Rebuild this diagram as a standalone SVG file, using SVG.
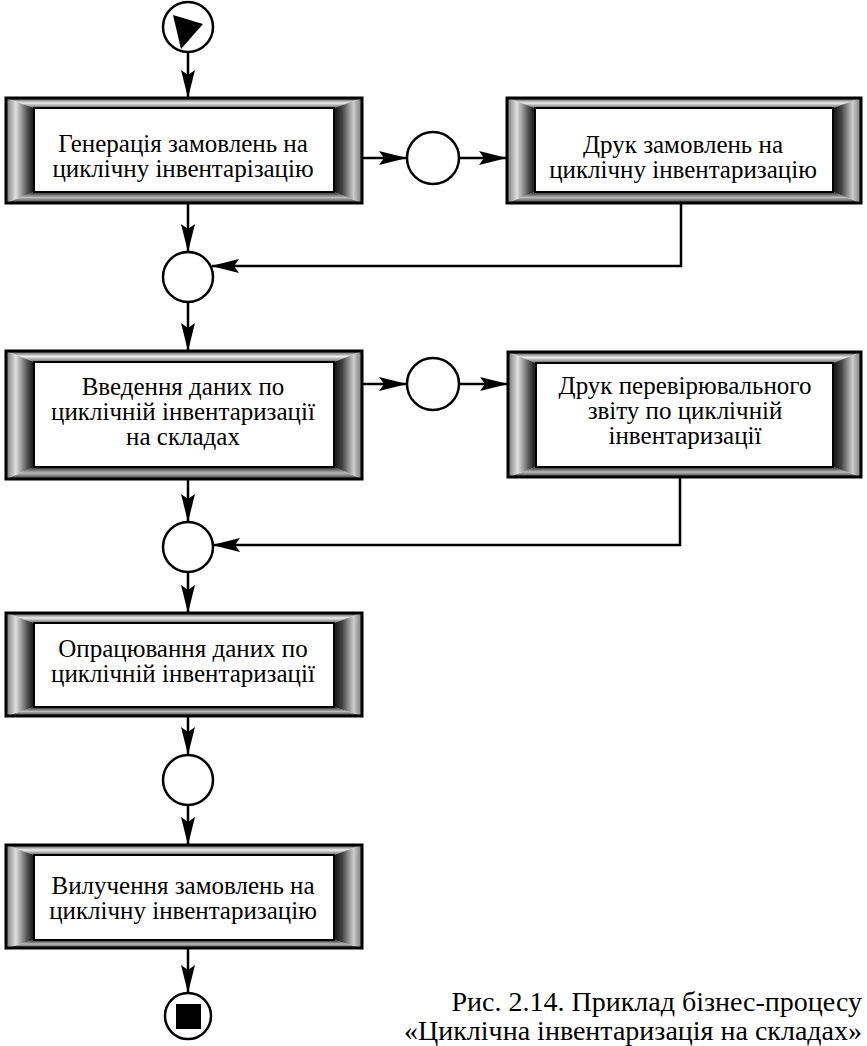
<svg xmlns="http://www.w3.org/2000/svg" width="867" height="1046" viewBox="0 0 867 1046">
<style>
.ln{fill:none;stroke:#000;stroke-width:2.5}
.ar{marker-end:url(#arr)}
.circ{fill:#fff;stroke:#000;stroke-width:2.5}
.outer{fill:none;stroke:#000;stroke-width:3}
.inner{fill:#fff;stroke:#000;stroke-width:2}
</style>
<defs>
<marker id="arr" markerUnits="userSpaceOnUse" markerWidth="28" markerHeight="14" refX="27" refY="7" orient="auto">
<path d="M0,0 L28,7 L0,14 L5,7 Z" fill="#000"/>
</marker>
<linearGradient id="gl" x1="0" y1="0" x2="1" y2="0">
<stop offset="0" stop-color="#777"/><stop offset="0.35" stop-color="#e0e0e0"/><stop offset="0.75" stop-color="#555"/><stop offset="1" stop-color="#111"/>
</linearGradient>
<linearGradient id="gr" x1="0" y1="0" x2="1" y2="0">
<stop offset="0" stop-color="#111"/><stop offset="0.3" stop-color="#444"/><stop offset="0.7" stop-color="#ccc"/><stop offset="1" stop-color="#777"/>
</linearGradient>
<linearGradient id="gt" x1="0" y1="0" x2="0" y2="1">
<stop offset="0" stop-color="#444"/><stop offset="0.5" stop-color="#eee"/><stop offset="1" stop-color="#666"/>
</linearGradient>
<linearGradient id="gb" x1="0" y1="0" x2="0" y2="1">
<stop offset="0" stop-color="#222"/><stop offset="0.5" stop-color="#bbb"/><stop offset="1" stop-color="#333"/>
</linearGradient>
</defs>

<g id="start">
<circle class="circ" cx="188" cy="27" r="25"/>
<polygon points="173,15 203,24 181,49" fill="#000"/>
</g>

<g id="box1">
<polygon points="6,98 362,98 334,108 34,108" fill="url(#gt)"/>
<polygon points="6,203 362,203 334,192 34,192" fill="url(#gb)"/>
<polygon points="6,98 34,108 34,192 6,203" fill="url(#gl)"/>
<polygon points="362,98 334,108 334,192 362,203" fill="url(#gr)"/>
<rect class="outer" x="6" y="98" width="356" height="105"/>
<rect class="inner" x="34" y="108" width="300" height="84"/>
<text x="183" y="152" font-family="'Liberation Serif', 'Times New Roman', serif" font-size="25" text-anchor="middle">Генерація замовлень на</text>
<text x="183" y="177" font-family="'Liberation Serif', 'Times New Roman', serif" font-size="25" text-anchor="middle">циклічну інвентарізацію</text>
</g>

<g id="box2">
<polygon points="507,98 861,98 833,108 535,108" fill="url(#gt)"/>
<polygon points="507,203 861,203 833,192 535,192" fill="url(#gb)"/>
<polygon points="507,98 535,108 535,192 507,203" fill="url(#gl)"/>
<polygon points="861,98 833,108 833,192 861,203" fill="url(#gr)"/>
<rect class="outer" x="507" y="98" width="354" height="105"/>
<rect class="inner" x="535" y="108" width="298" height="84"/>
<text x="683" y="153" font-family="'Liberation Serif', 'Times New Roman', serif" font-size="25" text-anchor="middle">Друк замовлень на</text>
<text x="683" y="178" font-family="'Liberation Serif', 'Times New Roman', serif" font-size="25" text-anchor="middle">циклічну інвентаризацію</text>
</g>

<g id="box3">
<polygon points="6,351 362,351 334,362 34,362" fill="url(#gt)"/>
<polygon points="6,479 362,479 334,467 34,467" fill="url(#gb)"/>
<polygon points="6,351 34,362 34,467 6,479" fill="url(#gl)"/>
<polygon points="362,351 334,362 334,467 362,479" fill="url(#gr)"/>
<rect class="outer" x="6" y="351" width="356" height="128"/>
<rect class="inner" x="34" y="362" width="300" height="105"/>
<text x="183" y="395" font-family="'Liberation Serif', 'Times New Roman', serif" font-size="25" text-anchor="middle">Введення даних по</text>
<text x="183" y="420" font-family="'Liberation Serif', 'Times New Roman', serif" font-size="25" text-anchor="middle">циклічній інвентаризації</text>
<text x="183" y="445" font-family="'Liberation Serif', 'Times New Roman', serif" font-size="25" text-anchor="middle">на складах</text>
</g>

<g id="box4">
<polygon points="508,352 861,352 833,363 536,363" fill="url(#gt)"/>
<polygon points="508,477 861,477 833,467 536,467" fill="url(#gb)"/>
<polygon points="508,352 536,363 536,467 508,477" fill="url(#gl)"/>
<polygon points="861,352 833,363 833,467 861,477" fill="url(#gr)"/>
<rect class="outer" x="508" y="352" width="353" height="125"/>
<rect class="inner" x="536" y="363" width="297" height="104"/>
<text x="685" y="394" font-family="'Liberation Serif', 'Times New Roman', serif" font-size="25" text-anchor="middle">Друк перевірювального</text>
<text x="685" y="419" font-family="'Liberation Serif', 'Times New Roman', serif" font-size="25" text-anchor="middle">звіту по циклічній</text>
<text x="685" y="444" font-family="'Liberation Serif', 'Times New Roman', serif" font-size="25" text-anchor="middle">інвентаризації</text>
</g>

<g id="box5">
<polygon points="6,613 362,613 334,623 34,623" fill="url(#gt)"/>
<polygon points="6,716 362,716 334,707 34,707" fill="url(#gb)"/>
<polygon points="6,613 34,623 34,707 6,716" fill="url(#gl)"/>
<polygon points="362,613 334,623 334,707 362,716" fill="url(#gr)"/>
<rect class="outer" x="6" y="613" width="356" height="103"/>
<rect class="inner" x="34" y="623" width="300" height="84"/>
<text x="183" y="657" font-family="'Liberation Serif', 'Times New Roman', serif" font-size="25" text-anchor="middle">Опрацювання даних по</text>
<text x="183" y="682" font-family="'Liberation Serif', 'Times New Roman', serif" font-size="25" text-anchor="middle">циклічній інвентаризації</text>
</g>

<g id="box6">
<polygon points="6,845 362,845 334,855 34,855" fill="url(#gt)"/>
<polygon points="6,948 362,948 334,940 34,940" fill="url(#gb)"/>
<polygon points="6,845 34,855 34,940 6,948" fill="url(#gl)"/>
<polygon points="362,845 334,855 334,940 362,948" fill="url(#gr)"/>
<rect class="outer" x="6" y="845" width="356" height="103"/>
<rect class="inner" x="34" y="855" width="300" height="85"/>
<text x="183" y="894" font-family="'Liberation Serif', 'Times New Roman', serif" font-size="25" text-anchor="middle">Вилучення замовлень на</text>
<text x="183" y="919" font-family="'Liberation Serif', 'Times New Roman', serif" font-size="25" text-anchor="middle">циклічну інвентаризацію</text>
</g>

<g id="j1"><circle class="circ" cx="433" cy="158" r="26"/></g>
<g id="m1"><circle class="circ" cx="188" cy="277" r="25"/></g>
<g id="j2"><circle class="circ" cx="433" cy="384" r="26"/></g>
<g id="m2"><circle class="circ" cx="188" cy="547" r="25"/></g>
<g id="j3"><circle class="circ" cx="188" cy="780" r="25"/></g>
<g id="end">
<circle class="circ" cx="188" cy="1016" r="23"/>
<rect x="176" y="1004" width="25" height="25" fill="#000"/>
</g>

<g id="connectors">
<path class="ln ar" d="M188,52 V97"/>
<path class="ln ar" d="M362,158 H406"/>
<path class="ln ar" d="M459,158 H506"/>
<path class="ln ar" d="M188,203 V251"/>
<path class="ln ar" d="M681,203 V266 H212"/>
<path class="ln ar" d="M188,302 V350"/>
<path class="ln ar" d="M362,384 H406"/>
<path class="ln ar" d="M459,384 H507"/>
<path class="ln ar" d="M188,479 V521"/>
<path class="ln ar" d="M680,477 V545 H213"/>
<path class="ln ar" d="M188,572 V612"/>
<path class="ln ar" d="M188,716 V754"/>
<path class="ln ar" d="M188,805 V844"/>
<path class="ln ar" d="M188,948 V992"/>
</g>

<g id="caption">
<text x="862" y="1011" font-family="'Liberation Serif', 'Times New Roman', serif" font-size="28" text-anchor="end">Рис. 2.14. Приклад бізнес-процесу</text>
<text x="862" y="1040" font-family="'Liberation Serif', 'Times New Roman', serif" font-size="28" text-anchor="end">«Циклічна інвентаризація на складах»</text>
</g>
</svg>
